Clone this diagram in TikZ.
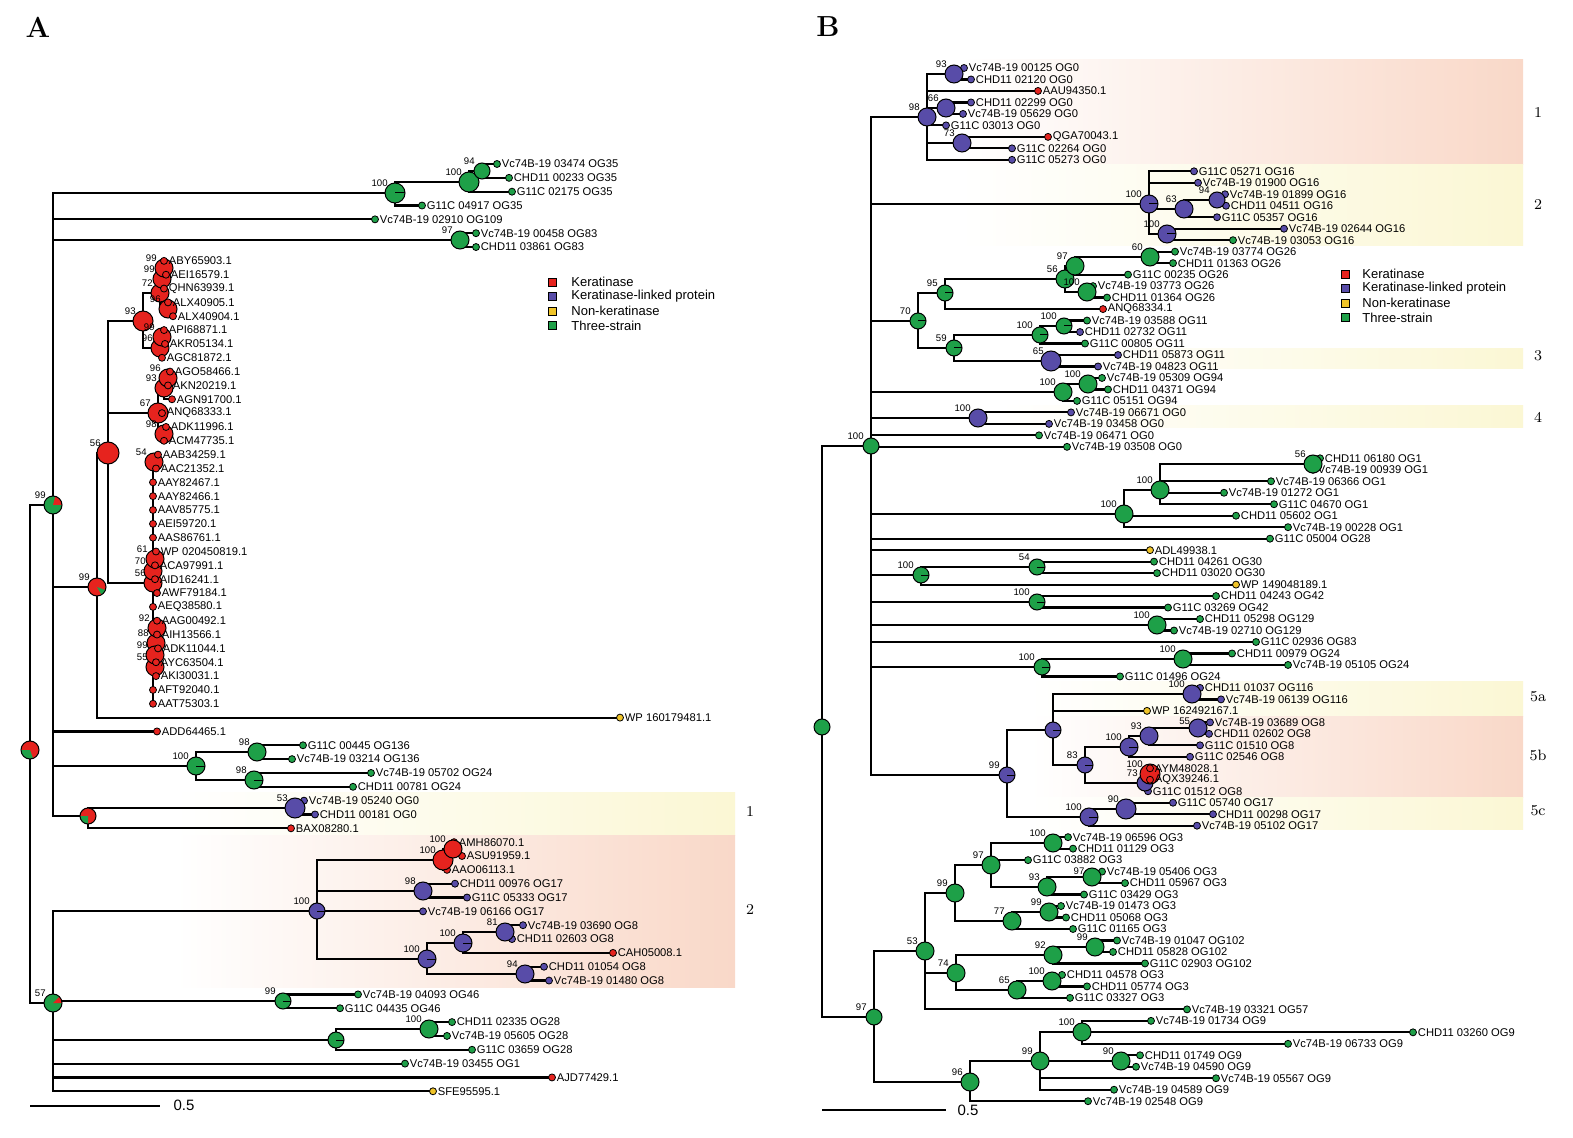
\documentclass[tikz,border=0pt]{standalone}
\usepackage{fontspec}
\newfontfamily\hv{Liberation Sans}
\pgfdeclarelayer{back}\pgfdeclarelayer{bands}\pgfdeclarelayer{bg}
\pgfsetlayers{back,bands,bg,main}
\definecolor{cR}{RGB}{230,35,30}
\definecolor{cP}{RGB}{88,76,168}
\definecolor{cY}{RGB}{240,196,40}
\definecolor{cG}{RGB}{30,160,72}
\definecolor{bY}{RGB}{251,247,212}
\definecolor{bP}{RGB}{249,216,200}
\newcommand\lfont{\hv\fontsize{5.6}{6}\selectfont}
\newcommand\sfont{\hv\fontsize{4.8}{5}\selectfont}
\tikzset{
  leaf/.style={circle,draw=black,line width=0.4pt,inner sep=0pt,minimum size=3.5pt},
  inode/.style={circle,draw=black,line width=0.5pt,inner sep=0pt,minimum size=#1},
  edge/.style={line width=1.1pt,black},
  lbl/.style={font=\lfont,anchor=west,inner sep=0pt,xshift=0.3pt},
  sup/.style={font=\sfont,anchor=south east,inner sep=0pt},
  tk/.style={path picture={\draw[line width=0.5pt] (path picture bounding box.center) -- (path picture bounding box.east);}},
  sect/.style n args={3}{path picture={\fill[#3] (path picture bounding box.center) -- ++(#1:8pt) arc[start angle=#1,end angle=#2,radius=8pt] -- cycle;}},
  sq/.style={rectangle,draw=black,line width=0.3pt,inner sep=0pt,minimum size=4pt},
  lgt/.style={font=\hv\fontsize{6.5}{7}\selectfont,anchor=west,inner sep=0pt},
  bandlbl/.style={font=\fontsize{7.5}{8}\selectfont,inner sep=0pt},
}
\newcommand\lfA[5]{\node[leaf,fill=#4] (#1) at (#2,{164+13.84*#3}) {};\node[lbl] (#1t) at (#1.east) {#5};}
\newcommand\lfB[5]{\node[leaf,fill=#4] (#1) at (#2,{68+11.48*#3}) {};\node[lbl] (#1t) at (#1.east) {#5};}
\newcommand\inn[7][]{\node[inode=#5pt,fill=#6,#1] (#2) at (#3,#4) {};\ifx\relax#7\relax\else\node[sup] (#2s) at ([xshift=-3.5pt,yshift=3pt]#2.center) {#7};\fi}
\newcommand\ed[2]{\foreach \ch in {#2}{\draw[edge] (#1.center) |- (\ch.center);}}
\begin{document}
\begin{tikzpicture}[x=0.5pt,y=-0.5pt]
\useasboundingbox (0,0) rectangle (1573,1138);
\begin{pgfonlayer}{back}
\fill[white] (0,0) rectangle (1573,1138);
\end{pgfonlayer}
% ---------------- bands ----------------
\begin{pgfonlayer}{bands}
\shade[left color=white,right color=bY] (175,792) rectangle (735,835);
\shade[left color=white,right color=bP] (175,835) rectangle (735,987);
\shade[left color=white,right color=bP] (960,60) rectangle (1523,165);
\shade[left color=white,right color=bY] (960,165) rectangle (1523,246);
\shade[left color=white,right color=bY] (1060,349) rectangle (1523,369);
\shade[left color=white,right color=bY] (1000,406) rectangle (1523,428);
\shade[left color=white,right color=bY] (1030,681) rectangle (1523,716);
\shade[left color=white,right color=bP] (1030,716) rectangle (1523,797);
\shade[left color=white,right color=bY] (1030,797) rectangle (1523,829);
\end{pgfonlayer}
\node[bandlbl] (blA1) at (750,812) {1};
\node[bandlbl] (blA2) at (750,910) {2};
\node[bandlbl] (blB1) at (1538,113) {1};
\node[bandlbl] (blB2) at (1538,205) {2};
\node[bandlbl] (blB3) at (1538,356) {3};
\node[bandlbl] (blB4) at (1538,417) {4};
\node[bandlbl] (blB5a) at (1538,697) {5a};
\node[bandlbl] (blB5b) at (1538,755) {5b};
\node[bandlbl] (blB5c) at (1538,811) {5c};
% panel labels
\node[font=\fontsize{14.5}{16}\selectfont\bfseries,inner sep=0pt] (pA) at (38,27) {A};
\node[font=\fontsize{14.5}{16}\selectfont\bfseries,inner sep=0pt] (pB) at (828,27) {B};
% scale bars
\coordinate (sbA1) at (30,1106); \coordinate (sbA2) at (160,1106);
\draw[line width=0.6pt] (sbA1) -- (sbA2);
\node[font=\hv\fontsize{7.5}{8}\selectfont,inner sep=0pt] (sbAt) at (184,1105) {0.5};
\coordinate (sbB1) at (822,1110); \coordinate (sbB2) at (946,1110);
\draw[line width=0.6pt] (sbB1) -- (sbB2);
\node[font=\hv\fontsize{7.5}{8}\selectfont,inner sep=0pt] (sbBt) at (968,1110) {0.5};
% legends
\node[sq,fill=cR] (lgA1) at (552,282) {}; \node[lgt] (lgA1t) at (571,282) {Keratinase};
\node[sq,fill=cP] (lgA2) at (552,296.5) {}; \node[lgt] (lgA2t) at (571,296.5) {Keratinase-linked protein};
\node[sq,fill=cY] (lgA3) at (552,311) {}; \node[lgt] (lgA3t) at (571,311) {Non-keratinase};
\node[sq,fill=cG] (lgA4) at (552,325.5) {}; \node[lgt] (lgA4t) at (571,325.5) {Three-strain};
\node[sq,fill=cR] (lgB1) at (1345,274) {}; \node[lgt] (lgB1t) at (1362,274) {Keratinase};
\node[sq,fill=cP] (lgB2) at (1345,288.5) {}; \node[lgt] (lgB2t) at (1362,288.5) {Keratinase-linked protein};
\node[sq,fill=cY] (lgB3) at (1345,303) {}; \node[lgt] (lgB3t) at (1362,303) {Non-keratinase};
\node[sq,fill=cG] (lgB4) at (1345,317.5) {}; \node[lgt] (lgB4t) at (1362,317.5) {Three-strain};
% ================= PANEL A leaves =================
\lfA{a0}{497}{0}{cG}{Vc74B-19 03474 OG35}
\lfA{a1}{509}{1}{cG}{CHD11 00233 OG35}
\lfA{a2}{512}{2}{cG}{G11C 02175 OG35}
\lfA{a3}{422}{3}{cG}{G11C 04917 OG35}
\lfA{a4}{375}{4}{cG}{Vc74B-19 02910 OG109}
\lfA{a5}{476}{5}{cG}{Vc74B-19 00458 OG83}
\lfA{a6}{476}{6}{cG}{CHD11 03861 OG83}
% ================= PANEL A internal nodes =================
\inn[tk]{nA100a}{395}{193}{10}{cG}{100}
\inn{nA100b}{469}{182}{10}{cG}{100}
\inn{nA94}{482}{171}{8}{cG}{94}
\inn{nA97}{460}{240}{9}{cG}{97}
\inn{nA56}{108}{453}{11}{cR}{56}
\inn{nA93}{143}{321}{10}{cR}{93}
\inn{nA72}{160}{293}{9}{cR}{72}
\inn{nA99c}{162}{279}{9}{cR}{99}
\inn{nA99d}{164}{268}{9}{cR}{99}
\inn{nA96a}{168}{309}{9}{cR}{96}
\inn{nA96b}{160}{348}{9}{cR}{96}
\inn{nA99e}{162}{337}{9}{cR}{99}
\inn{nA67}{158}{413}{10}{cR}{67}
\inn{nA93b}{164}{388}{9}{cR}{93}
\inn{nA96c}{168}{378}{9}{cR}{96}
\inn{nA98b}{164}{434}{9}{cR}{98}
\inn{nA56b}{153}{583}{9}{cR}{56}
\inn{nA54}{154}{462}{9}{cR}{54}
\inn{nA70}{153}{571}{9}{cR}{70}
\inn{nA61}{155}{559}{9}{cR}{61}
\inn{nA88}{156}{643}{9}{cR}{88}
\inn{nA92}{157}{628}{9}{cR}{92}
\inn{nA55}{155}{667}{9}{cR}{55}
\inn{nA99f}{155}{655}{9}{cR}{99}
% red leaves drawn over internal red nodes
\lfA{a7}{164}{7}{cR}{ABY65903.1}
\lfA{a8}{166}{8}{cR}{AEI16579.1}
\lfA{a9}{164}{9}{cR}{QHN63939.1}
\lfA{a10}{168}{10}{cR}{ALX40905.1}
\lfA{a11}{173}{11}{cR}{ALX40904.1}
\lfA{a12}{164}{12}{cR}{API68871.1}
\lfA{a13}{165}{13}{cR}{AKR05134.1}
\lfA{a14}{162}{14}{cR}{AGC81872.1}
\lfA{a15}{170}{15}{cR}{AGO58466.1}
\lfA{a16}{168}{16}{cR}{AKN20219.1}
\lfA{a17}{172}{17}{cR}{AGN91700.1}
\lfA{a18}{162}{18}{cR}{ANQ68333.1}
\lfA{a19}{166}{19}{cR}{ADK11996.1}
\lfA{a20}{164}{20}{cR}{ACM47735.1}
\lfA{a21}{158}{21}{cR}{AAB34259.1}
\lfA{a22}{156}{22}{cR}{AAC21352.1}
\lfA{a23}{153}{23}{cR}{AAY82467.1}
\lfA{a24}{153}{24}{cR}{AAY82466.1}
\lfA{a25}{153}{25}{cR}{AAV85775.1}
\lfA{a26}{153}{26}{cR}{AEI59720.1}
\lfA{a27}{153}{27}{cR}{AAS86761.1}
\lfA{a28}{156}{28}{cR}{WP 020450819.1}
\lfA{a29}{155}{29}{cR}{ACA97991.1}
\lfA{a30}{155}{30}{cR}{AID16241.1}
\lfA{a31}{157}{31}{cR}{AWF79184.1}
\lfA{a32}{153}{32}{cR}{AEQ38580.1}
\lfA{a33}{157}{33}{cR}{AAG00492.1}
\lfA{a34}{157}{34}{cR}{AIH13566.1}
\lfA{a35}{158}{35}{cR}{ADK11044.1}
\lfA{a36}{156}{36}{cR}{AYC63504.1}
\lfA{a37}{156}{37}{cR}{AKI30031.1}
\lfA{a38}{153}{38}{cR}{AFT92040.1}
\lfA{a39}{153}{39}{cR}{AAT75303.1}
\lfA{a40}{620}{40}{cY}{WP 160179481.1}
\lfA{a41}{157}{41}{cR}{ADD64465.1}
\lfA{a42}{303}{42}{cG}{G11C 00445 OG136}
\lfA{a43}{292}{43}{cG}{Vc74B-19 03214 OG136}
\lfA{a44}{371}{44}{cG}{Vc74B-19 05702 OG24}
\lfA{a45}{353}{45}{cG}{CHD11 00781 OG24}
\lfA{a46}{304}{46}{cP}{Vc74B-19 05240 OG0}
\lfA{a47}{315}{47}{cP}{CHD11 00181 OG0}
\lfA{a48}{291}{48}{cR}{BAX08280.1}
\lfA{a49}{454}{49}{cR}{AMH86070.1}
\lfA{a50}{462}{50}{cR}{ASU91959.1}
\lfA{a51}{447}{51}{cR}{AAO06113.1}
\lfA{a52}{455}{52}{cP}{CHD11 00976 OG17}
\lfA{a53}{467}{53}{cP}{G11C 05333 OG17}
\lfA{a54}{423}{54}{cP}{Vc74B-19 06166 OG17}
\lfA{a55}{523}{55}{cP}{Vc74B-19 03690 OG8}
\lfA{a56}{512}{56}{cP}{CHD11 02603 OG8}
\lfA{a57}{613}{57}{cR}{CAH05008.1}
\lfA{a58}{544}{58}{cP}{CHD11 01054 OG8}
\lfA{a59}{549}{59}{cP}{Vc74B-19 01480 OG8}
\lfA{a60}{358}{60}{cG}{Vc74B-19 04093 OG46}
\lfA{a61}{340}{61}{cG}{G11C 04435 OG46}
\lfA{a62}{452}{62}{cG}{CHD11 02335 OG28}
\lfA{a63}{447}{63}{cG}{Vc74B-19 05605 OG28}
\lfA{a64}{472}{64}{cG}{G11C 03659 OG28}
\lfA{a65}{405}{65}{cG}{Vc74B-19 03455 OG1}
\lfA{a66}{552}{66}{cR}{AJD77429.1}
\lfA{a67}{433}{67}{cY}{SFE95595.1}
\inn[sect={180}{290}{cG}]{nAroot}{30}{750}{9}{cR}{}
\inn[sect={0}{75}{cR}]{nA99}{53}{505}{9}{cG}{99}
\inn[sect={-60}{-20}{cG}]{nA99b}{97}{587}{9}{cR}{99}
\inn[tk]{nA100c}{196}{766}{9}{cG}{100}
\inn{nA98c}{257}{752}{9}{cG}{98}
\inn[tk]{nA98d}{254}{780}{9}{cG}{98}
\inn[sect={180}{270}{cG}]{nABA}{88}{816}{8}{cR}{}
\inn{nA53}{295}{808}{10}{cP}{53}
\inn[sect={0}{45}{cR}]{nA57}{53}{1003}{9}{cG}{57}
\inn[tk]{nA100d}{317}{911}{8}{cP}{100}
\inn{nA100e}{443}{860}{10}{cR}{100}
\inn{nA100g}{453}{849}{9}{cR}{100}
\inn{nA98e}{423}{891}{9}{cP}{98}
\inn[tk]{nA100f}{427}{959}{9}{cP}{100}
\inn[tk]{nA100h}{463}{943}{9}{cP}{100}
\inn{nA81}{505}{932}{9}{cP}{81}
\inn{nA94b}{525}{974}{9}{cP}{94}
\inn[tk]{nA99g}{283}{1001}{8}{cG}{99}
\inn[tk]{nAX}{336}{1040}{8}{cG}{}
\inn{nA100i}{429}{1029}{9}{cG}{100}
% ================= PANEL B leaves =================
\lfB{b0}{964}{0}{cP}{Vc74B-19 00125 OG0}
\lfB{b1}{971}{1}{cP}{CHD11 02120 OG0}
\lfB{b2}{1038}{2}{cR}{AAU94350.1}
\lfB{b3}{971}{3}{cP}{CHD11 02299 OG0}
\lfB{b4}{963}{4}{cP}{Vc74B-19 05629 OG0}
\lfB{b5}{946}{5}{cP}{G11C 03013 OG0}
\lfB{b6}{1048}{6}{cR}{QGA70043.1}
\lfB{b7}{1012}{7}{cP}{G11C 02264 OG0}
\lfB{b8}{1012}{8}{cP}{G11C 05273 OG0}
\lfB{b9}{1194}{9}{cP}{G11C 05271 OG16}
\lfB{b10}{1198}{10}{cP}{Vc74B-19 01900 OG16}
\lfB{b11}{1225}{11}{cP}{Vc74B-19 01899 OG16}
\lfB{b12}{1226}{12}{cP}{CHD11 04511 OG16}
\lfB{b13}{1217}{13}{cP}{G11C 05357 OG16}
\lfB{b14}{1284}{14}{cP}{Vc74B-19 02644 OG16}
\lfB{b15}{1233}{15}{cG}{Vc74B-19 03053 OG16}
\lfB{b16}{1175}{16}{cG}{Vc74B-19 03774 OG26}
\lfB{b17}{1173}{17}{cG}{CHD11 01363 OG26}
\lfB{b18}{1128}{18}{cG}{G11C 00235 OG26}
\lfB{b19}{1093}{19}{cG}{Vc74B-19 03773 OG26}
\lfB{b20}{1107}{20}{cG}{CHD11 01364 OG26}
\lfB{b21}{1103}{21}{cR}{ANQ68334.1}
\lfB{b22}{1087}{22}{cG}{Vc74B-19 03588 OG11}
\lfB{b23}{1080}{23}{cP}{CHD11 02732 OG11}
\lfB{b24}{1085}{24}{cG}{G11C 00805 OG11}
\lfB{b25}{1118}{25}{cP}{CHD11 05873 OG11}
\lfB{b26}{1098}{26}{cP}{Vc74B-19 04823 OG11}
\lfB{b27}{1102}{27}{cG}{Vc74B-19 05309 OG94}
\lfB{b28}{1108}{28}{cG}{CHD11 04371 OG94}
\lfB{b29}{1077}{29}{cG}{G11C 05151 OG94}
\lfB{b30}{1071}{30}{cP}{Vc74B-19 06671 OG0}
\lfB{b31}{1049}{31}{cP}{Vc74B-19 03458 OG0}
\lfB{b32}{1039}{32}{cG}{Vc74B-19 06471 OG0}
\lfB{b33}{1067}{33}{cG}{Vc74B-19 03508 OG0}
\lfB{b34}{1320}{34}{cG}{CHD11 06180 OG1}
\lfB{b35}{1313}{35}{cG}{Vc74B-19 00939 OG1}
\lfB{b36}{1271}{36}{cG}{Vc74B-19 06366 OG1}
\lfB{b37}{1224}{37}{cG}{Vc74B-19 01272 OG1}
\lfB{b38}{1274}{38}{cG}{G11C 04670 OG1}
\lfB{b39}{1236}{39}{cG}{CHD11 05602 OG1}
\lfB{b40}{1288}{40}{cG}{Vc74B-19 00228 OG1}
\lfB{b41}{1270}{41}{cG}{G11C 05004 OG28}
\lfB{b42}{1150}{42}{cY}{ADL49938.1}
\lfB{b43}{1154}{43}{cG}{CHD11 04261 OG30}
\lfB{b44}{1157}{44}{cG}{CHD11 03020 OG30}
\lfB{b45}{1236}{45}{cY}{WP 149048189.1}
\lfB{b46}{1216}{46}{cG}{CHD11 04243 OG42}
\lfB{b47}{1168}{47}{cG}{G11C 03269 OG42}
\lfB{b48}{1200}{48}{cG}{CHD11 05298 OG129}
\lfB{b49}{1174}{49}{cG}{Vc74B-19 02710 OG129}
\lfB{b50}{1256}{50}{cG}{G11C 02936 OG83}
\lfB{b51}{1232}{51}{cG}{CHD11 00979 OG24}
\lfB{b52}{1288}{52}{cG}{Vc74B-19 05105 OG24}
\lfB{b53}{1120}{53}{cG}{G11C 01496 OG24}
\lfB{b54}{1200}{54}{cP}{CHD11 01037 OG116}
\lfB{b55}{1221}{55}{cP}{Vc74B-19 06139 OG116}
\lfB{b56}{1147}{56}{cY}{WP 162492167.1}
\lfB{b57}{1210}{57}{cP}{Vc74B-19 03689 OG8}
\lfB{b58}{1209}{58}{cP}{CHD11 02602 OG8}
\lfB{b59}{1200}{59}{cP}{G11C 01510 OG8}
\lfB{b60}{1190}{60}{cP}{G11C 02546 OG8}
\lfB{b63}{1148}{63}{cP}{G11C 01512 OG8}
\lfB{b64}{1173}{64}{cP}{G11C 05740 OG17}
\lfB{b65}{1213}{65}{cP}{CHD11 00298 OG17}
\lfB{b66}{1197}{66}{cP}{Vc74B-19 05102 OG17}
\lfB{b67}{1068}{67}{cG}{Vc74B-19 06596 OG3}
\lfB{b68}{1073}{68}{cG}{CHD11 01129 OG3}
\lfB{b69}{1028}{69}{cG}{G11C 03882 OG3}
\lfB{b70}{1102}{70}{cG}{Vc74B-19 05406 OG3}
\lfB{b71}{1125}{71}{cG}{CHD11 05967 OG3}
\lfB{b72}{1084}{72}{cG}{G11C 03429 OG3}
\lfB{b73}{1061}{73}{cG}{Vc74B-19 01473 OG3}
\lfB{b74}{1066}{74}{cG}{CHD11 05068 OG3}
\lfB{b75}{1073}{75}{cG}{G11C 01165 OG3}
\lfB{b76}{1117}{76}{cG}{Vc74B-19 01047 OG102}
\lfB{b77}{1113}{77}{cG}{CHD11 05828 OG102}
\lfB{b78}{1145}{78}{cG}{G11C 02903 OG102}
\lfB{b79}{1062}{79}{cG}{CHD11 04578 OG3}
\lfB{b80}{1087}{80}{cG}{CHD11 05774 OG3}
\lfB{b81}{1070}{81}{cG}{G11C 03327 OG3}
\lfB{b82}{1187}{82}{cG}{Vc74B-19 03321 OG57}
\lfB{b83}{1151}{83}{cG}{Vc74B-19 01734 OG9}
\lfB{b84}{1413}{84}{cG}{CHD11 03260 OG9}
\lfB{b85}{1288}{85}{cG}{Vc74B-19 06733 OG9}
\lfB{b86}{1140}{86}{cG}{CHD11 01749 OG9}
\lfB{b87}{1136}{87}{cG}{Vc74B-19 04590 OG9}
\lfB{b88}{1216}{88}{cG}{Vc74B-19 05567 OG9}
\lfB{b89}{1114}{89}{cG}{Vc74B-19 04589 OG9}
\lfB{b90}{1088}{90}{cG}{Vc74B-19 02548 OG9}
% ================= PANEL B internal nodes =================
\inn{nBroot}{822}{727}{8}{cG}{}
\inn{m100}{871}{446}{8}{cG}{100}
\inn{m98}{927}{117}{9}{cP}{98}
\inn{m93}{954}{74}{9}{cP}{93}
\inn{m66}{946}{108}{9}{cP}{66}
\inn{m73}{962}{143}{9}{cP}{73}
\inn[tk]{m100b2}{1149}{204}{9}{cP}{100}
\inn{m63}{1184}{209}{9}{cP}{63}
\inn{m94}{1217}{200}{8}{cP}{94}
\inn[tk]{m100c}{1167}{234}{9}{cP}{100}
\inn[tk]{m70}{918}{321}{8}{cG}{70}
\inn[tk]{m95}{945}{293}{8}{cG}{95}
\inn{m56}{1065}{279}{9}{cG}{56}
\inn{m97}{1075}{266}{9}{cG}{97}
\inn{m60}{1150}{257}{9}{cG}{60}
\inn{m100d}{1087}{292}{9}{cG}{100}
\inn[tk]{m59}{954}{348}{8}{cG}{59}
\inn[tk]{m100e}{1040}{335}{8}{cG}{100}
\inn[tk]{m100f}{1064}{326}{8}{cG}{100}
\inn{m65}{1051}{361}{10}{cP}{65}
\inn{m100g}{1063}{392}{9}{cG}{100}
\inn{m100h}{1088}{384}{9}{cG}{100}
\inn{m100p}{978}{418}{9}{cP}{100}
\inn{m100o}{1124}{514}{9}{cG}{100}
\inn{m100q}{1160}{490}{9}{cG}{100}
\inn{m56b}{1313}{464}{9}{cG}{56}
\inn[tk]{m100s}{921}{575}{8}{cG}{100}
\inn[tk]{m54}{1037}{567}{8}{cG}{54}
\inn[tk]{m100t}{1037}{602}{8}{cG}{100}
\inn{m100u}{1157}{625}{9}{cG}{100}
\inn[tk]{m100v}{1042}{667}{8}{cG}{100}
\inn{m100w}{1183}{659}{9}{cG}{100}
\inn[tk]{m99p}{1007}{775}{8}{cP}{99}
\inn[tk]{mQ}{1053}{730}{8}{cP}{}
\inn{m100x}{1192}{694}{9}{cP}{100}
\inn[tk]{m83}{1085}{765}{8}{cP}{83}
\inn[tk]{m100y}{1129}{747}{9}{cP}{100}
\inn{m93b}{1149}{736}{9}{cP}{93}
\inn{m55}{1198}{728}{9}{cP}{}
\node[sup] (m55s) at ([xshift=-3.8pt,yshift=1.6pt]m55.center) {55};
\inn{m73b}{1145}{783}{8}{cP}{73}
\inn{m100r}{1150}{774}{10}{cR}{100}
\inn[tk]{m100z}{1089}{817}{9}{cP}{100}
\inn{m90}{1126}{809}{10}{cP}{90}
\inn{m97c}{874}{1017}{8}{cG}{97}
\inn{m53}{925}{951}{9}{cG}{53}
\inn{m99q}{955}{893}{9}{cG}{99}
\inn{m97d}{991}{865}{9}{cG}{97}
\inn{m100aa}{1053}{843}{9}{cG}{100}
\inn{m93c}{1047}{887}{9}{cG}{93}
\inn{m97e}{1092}{877}{9}{cG}{}
\node[sup] (m97es) at ([xshift=-3.6pt,yshift=1.2pt]m97e.center) {97};
\inn{m77}{1012}{921}{9}{cG}{77}
\inn{m99r}{1049}{912}{9}{cG}{99}
\inn{m74}{956}{973}{9}{cG}{74}
\inn{m92}{1053}{955}{9}{cG}{92}
\inn{m99s}{1095}{947}{9}{cG}{99}
\inn{m65b}{1017}{990}{9}{cG}{65}
\inn{m100ab}{1052}{981}{9}{cG}{100}
\inn{m96}{970}{1082}{9}{cG}{96}
\inn{m99t}{1040}{1061}{9}{cG}{99}
\inn{m100ac}{1082}{1032}{9}{cG}{100}
\inn{m90b}{1121}{1061}{9}{cG}{90}
\lfB{b61}{1150}{61}{cR}{AYM48028.1}
\lfB{b62}{1150}{62}{cR}{AQX39246.1}
% ================= EDGES =================
\begin{pgfonlayer}{bg}
\ed{nAroot}{nA99,nA57}
\ed{nA99}{nA100a,a4,nA97,nA99b,a41,nA100c,nABA}
\ed{nA100a}{nA100b,a3}
\ed{nA100b}{nA94,a2}
\ed{nA94}{a0,a1}
\ed{nA97}{a5,a6}
\ed{nA99b}{nA56,a40}
\ed{nA56}{nA93,nA67,nA56b}
\ed{nA93}{nA72,nA96b}
\ed{nA72}{nA99c,nA96a}
\ed{nA99c}{nA99d,a9}
\ed{nA99d}{a7,a8}
\ed{nA96a}{a10,a11}
\ed{nA96b}{nA99e,a14}
\ed{nA99e}{a12,a13}
\ed{nA67}{nA93b,a18,nA98b}
\ed{nA93b}{nA96c,a17}
\ed{nA96c}{a15,a16}
\ed{nA98b}{a19,a20}
\ed{nA56b}{nA54,a23,a24,a25,a26,a27,nA70,a31,a32,nA88,a38,a39}
\ed{nA54}{a21,a22}
\ed{nA70}{nA61,a30}
\ed{nA61}{a28,a29}
\ed{nA88}{nA92,nA55}
\ed{nA92}{a33,a34}
\ed{nA55}{nA99f,a37}
\ed{nA99f}{a35,a36}
\ed{nA100c}{nA98c,nA98d}
\ed{nA98c}{a42,a43}
\ed{nA98d}{a44,a45}
\ed{nABA}{nA53,a48}
\ed{nA53}{a46,a47}
\ed{nA57}{nA100d,nA99g,nAX,a65,a66,a67}
\ed{nA100d}{nA100e,nA98e,a54,nA100f}
\ed{nA100e}{nA100g,a51}
\ed{nA100g}{a49,a50}
\ed{nA98e}{a52,a53}
\ed{nA100f}{nA100h,nA94b}
\ed{nA100h}{nA81,a57}
\ed{nA81}{a55,a56}
\ed{nA94b}{a58,a59}
\ed{nA99g}{a60,a61}
\ed{nAX}{nA100i,a64}
\ed{nA100i}{a62,a63}
% B
\ed{nBroot}{m100,m97c}
\ed{m100}{m98,m100b2,m70,m100g,m100p,b32,b33,m100o,b41,b42,m100s,m100t,m100u,b50,m100v,m99p}
\ed{m98}{m93,b2,m66,b5,m73,b8}
\ed{m93}{b0,b1}
\ed{m66}{b3,b4}
\ed{m73}{b6,b7}
\ed{m100b2}{b9,b10,m63,m100c}
\ed{m63}{m94,b13}
\ed{m94}{b11,b12}
\ed{m100c}{b14,b15}
\ed{m70}{m95,m59}
\ed{m95}{m56,b21}
\ed{m56}{m97,m100d}
\ed{m97}{m60,b18}
\ed{m60}{b16,b17}
\ed{m100d}{b19,b20}
\ed{m59}{m100e,m65}
\ed{m100e}{m100f,b24}
\ed{m100f}{b22,b23}
\ed{m65}{b25,b26}
\ed{m100g}{m100h,b29}
\ed{m100h}{b27,b28}
\ed{m100p}{b30,b31}
\ed{m100o}{m100q,b39,b40}
\ed{m100q}{m56b,b36,b37,b38}
\ed{m56b}{b34,b35}
\ed{m100s}{m54,b45}
\ed{m54}{b43,b44}
\ed{m100t}{b46,b47}
\ed{m100u}{b48,b49}
\ed{m100v}{m100w,b53}
\ed{m100w}{b51,b52}
\ed{m99p}{mQ,m100z}
\ed{mQ}{m100x,b56,m83}
\ed{m100x}{b54,b55}
\ed{m83}{m100y,m73b}
\ed{m100y}{m93b,b60}
\ed{m93b}{m55,b59}
\ed{m55}{b57,b58}
\ed{m73b}{m100r,b63}
\ed{m100r}{b61,b62}
\ed{m100z}{m90,b66}
\ed{m90}{b64,b65}
\ed{m97c}{m53,m96}
\ed{m53}{m99q,m74,b82}
\ed{m99q}{m97d,m77}
\ed{m97d}{m100aa,b69,m93c}
\ed{m100aa}{b67,b68}
\ed{m93c}{m97e,b72}
\ed{m97e}{b70,b71}
\ed{m77}{m99r,b75}
\ed{m99r}{b73,b74}
\ed{m74}{m92,m65b}
\ed{m92}{m99s,b78}
\ed{m99s}{b76,b77}
\ed{m65b}{m100ab,b81}
\ed{m100ab}{b79,b80}
\ed{m96}{m99t,b90}
\ed{m99t}{m100ac,m90b,b88,b89}
\ed{m100ac}{b83,b84,b85}
\ed{m90b}{b86,b87}
\end{pgfonlayer}
\end{tikzpicture}
\end{document}
